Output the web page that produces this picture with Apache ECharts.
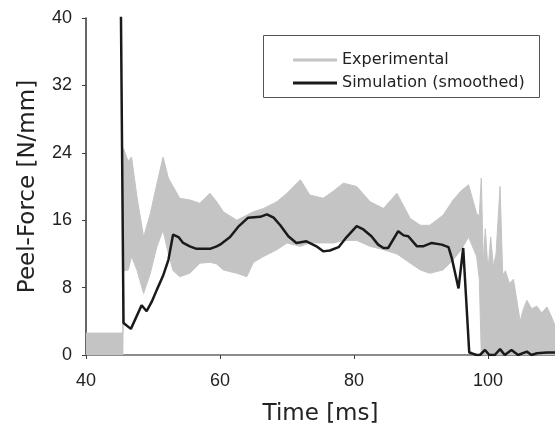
<!DOCTYPE html>
<html>
<head>
<meta charset="utf-8">
<script src="https://cdn.jsdelivr.net/npm/echarts@6/dist/echarts.min.js"></script>
<style>html,body{margin:0;padding:0;background:#fff;}#c{width:555px;height:437px;}</style>
</head>
<body>
<div id="c"></div>
<script>
// Experimental band (envelope of the measured curves)
const expTime  = [40, 45.5, 45.6, 46.3, 46.8, 47.6, 48.6, 49.6, 50.6, 51.5, 52.3, 53.0, 54.0, 55.5, 57.0, 58.5, 59.5, 60.5, 62.5, 64.0, 65.0, 66.5, 68.5, 70.0, 72.0, 73.4, 75.4, 77.0, 78.4, 80.4, 82.4, 84.4, 86.4, 88.4, 89.9, 91.3, 93.3, 94.8, 96.0, 97.1, 98.3, 98.7, 99.0, 99.3, 99.6, 100.0, 100.4, 100.8, 101.2, 101.8, 102.2, 102.6, 103.2, 103.8, 104.3, 104.8, 105.3, 105.8, 106.5, 107.3, 108.0, 108.8, 109.5, 110];
const expUpper = [2.6, 2.6, 24.5, 23.0, 23.5, 18.8, 14.0, 16.8, 20.4, 23.5, 21.0, 20.0, 18.6, 18.4, 18.0, 19.2, 18.2, 17.0, 16.0, 16.6, 17.0, 17.4, 18.2, 19.2, 20.8, 19.0, 18.6, 19.5, 20.4, 20.0, 18.2, 17.4, 19.2, 16.2, 15.4, 15.4, 16.6, 18.4, 19.5, 20.2, 16.8, 16.5, 21.0, 11.0, 15.0, 10.0, 14.0, 10.5, 12.0, 20.0, 9.5, 10.0, 8.5, 9.0, 6.5, 4.0, 5.5, 6.5, 5.5, 5.8, 5.0, 5.7, 4.5, 3.5];
const expLower = [0, 0, 10.0, 10.1, 11.7, 10.1, 7.3, 9.7, 12.9, 14.8, 12.0, 10.0, 9.3, 9.7, 10.9, 11.0, 10.8, 10.1, 9.7, 9.3, 11.0, 11.7, 12.5, 13.3, 12.9, 13.3, 13.3, 13.3, 13.6, 13.6, 12.9, 12.5, 12.0, 10.9, 10.1, 9.7, 10.1, 11.3, 12.5, 14.0, 11.7, 9.0, 0, 0, 0, 0, 0, 0, 0, 0, 0, 0, 0, 0, 0, 0, 0, 0, 0, 0, 0, 0, 0, 0];

// Simulation (smoothed)
const simTime  = [45.2, 45.6, 46.7, 48.3, 49.05, 49.8, 50.55, 51.5, 52.3, 53.0, 53.8, 54.5, 55.5, 56.5, 58.5, 59.5, 60.0, 61.5, 62.7, 64.2, 66.0, 67.0, 68.0, 69.0, 70.2, 71.4, 72.9, 74.4, 75.4, 76.4, 77.7, 78.9, 80.4, 81.4, 82.6, 83.6, 84.4, 85.1, 86.6, 87.4, 88.1, 89.4, 90.3, 91.6, 93.1, 94.1, 94.6, 95.6, 96.3, 97.2, 97.6, 98.3, 98.8, 99.55, 100.2, 101.0, 101.8, 102.5, 103.5, 104.5, 105.8, 106.5, 107.3, 108.8, 110];
const simForce = [42, 3.8, 3.1, 5.9, 5.2, 6.3, 7.7, 9.4, 11.3, 14.3, 14.0, 13.3, 12.9, 12.6, 12.6, 12.9, 13.1, 14.0, 15.2, 16.3, 16.4, 16.7, 16.3, 15.4, 14.1, 13.3, 13.5, 12.9, 12.3, 12.4, 12.8, 14.0, 15.3, 14.9, 14.1, 13.1, 12.7, 12.7, 14.7, 14.2, 14.1, 12.9, 12.9, 13.3, 13.1, 12.8, 11.5, 7.9, 12.7, 0.3, 0.2, 0.0, 0.0, 0.6, 0.0, 0.0, 0.7, 0.0, 0.6, 0.0, 0.4, 0.0, 0.2, 0.3, 0.3];

const xMin = 40, xMax = 110, xStep = 20;
const yMin = 0, yMax = 40, yStep = 8;
const xTitle = 'Time [ms]';
const yTitle = 'Peel-Force [N/mm]';
const seriesNames = ['Experimental', 'Simulation (smoothed)'];

const GRAY = '#c4c4c4', BLACK = '#1a1a1a';
const chart = echarts.init(document.getElementById('c'), null, {renderer: 'canvas'});

const bandData = expTime.map((t, i) => [t, expUpper[i], expLower[i]]);

chart.setOption({
  animation: false,
  backgroundColor: '#fff',
  grid: {left: 86, right: 0, top: 18, bottom: 82, containLabel: false},
  xAxis: [{
    type: 'value', min: xMin, max: xMax, interval: xStep,
    name: xTitle, nameLocation: 'middle', nameGap: 48,
    nameTextStyle: {fontFamily: 'DejaVu Sans', fontSize: 23, color: '#222'},
    axisLine: {show: true, onZero: false, lineStyle: {color: '#404040', width: 1.5}},
    axisTick: {show: true, inside: false, length: 4, lineStyle: {color: '#404040'}},
    axisLabel: {fontFamily: 'Liberation Sans', fontSize: 18, color: '#222', margin: 17, showMaxLabel: false},
    splitLine: {show: false}
  }, {
    type: 'value', min: xMin, max: xMax, position: 'top',
    axisLine: {show: true, lineStyle: {color: '#8c8c8c', width: 2}},
    axisTick: {show: false}, axisLabel: {show: false}, splitLine: {show: false}
  }],
  yAxis: {
    type: 'value', min: yMin, max: yMax, interval: yStep,
    name: yTitle, nameLocation: 'middle', nameGap: 46, nameRotate: 90,
    nameTextStyle: {fontFamily: 'DejaVu Sans', fontSize: 23, color: '#222'},
    axisLine: {show: true, onZero: false, lineStyle: {color: '#333', width: 1.5}},
    axisTick: {show: true, inside: false, length: 4, lineStyle: {color: '#404040'}},
    axisLabel: {fontFamily: 'Liberation Sans', fontSize: 18, color: '#222', margin: 14},
    splitLine: {show: false}
  },
  legend: {
    orient: 'vertical', left: 288, top: 47, itemWidth: 44, itemHeight: 3, itemGap: 7,
    z: 10,
    textStyle: {fontFamily: 'DejaVu Sans', fontSize: 16, color: '#222', lineHeight: 15},
    data: [
      {name: seriesNames[0], icon: 'rect', itemStyle: {color: GRAY}},
      {name: seriesNames[1], icon: 'rect', itemStyle: {color: BLACK}}
    ],
    selectedMode: false
  },
  graphic: [{
    type: 'rect', left: 263, top: 35, z: 5,
    shape: {width: 276, height: 62},
    style: {fill: '#fff', stroke: '#555', lineWidth: 1}
  }],
  series: [{
    type: 'custom', name: seriesNames[0],
    itemStyle: {color: GRAY},
    data: bandData,
    encode: {x: 0, y: [1, 2]},
    clip: true, z: 2,
    renderItem: function (params, api) {
      if (params.dataIndex !== 0) return null;
      const pts = [];
      for (let i = 0; i < expTime.length; i++) pts.push(api.coord([expTime[i], expUpper[i]]));
      for (let i = expTime.length - 1; i >= 0; i--) pts.push(api.coord([expTime[i], expLower[i]]));
      return {type: 'polygon', shape: {points: pts}, style: {fill: GRAY, stroke: GRAY, lineWidth: 1}};
    }
  }, {
    type: 'line', name: seriesNames[1],
    data: simTime.map((t, i) => [t, simForce[i]]),
    showSymbol: false, symbol: 'none', clip: true, z: 3,
    lineStyle: {color: BLACK, width: 2.5},
    itemStyle: {color: BLACK}
  }]
});
</script>
</body>
</html>
